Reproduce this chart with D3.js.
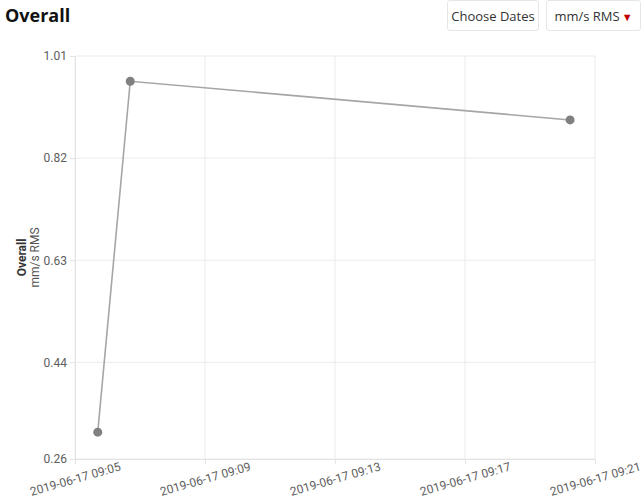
<!DOCTYPE html>
<html><head><meta charset="utf-8">
<script src="https://cdn.jsdelivr.net/npm/d3@7"></script>
<style>
body{margin:0;background:#fff;font-family:Roboto,"Open Sans",sans-serif;}
.btn{position:absolute;top:0;height:31px;border:1px solid #e6e6e6;border-radius:3px;box-sizing:border-box;font-family:"Open Sans",sans-serif;font-size:13px;color:#333;line-height:30px;text-align:center;background:#fff;}
</style></head>
<body>
<div style="position:absolute;left:5px;top:3px;font-family:'Open Sans',sans-serif;font-weight:700;font-size:18px;color:#111;">Overall</div>
<div class="btn" style="left:447px;width:92px;">Choose Dates</div>
<div class="btn" style="left:546px;width:95px;">mm/s RMS<span style="color:#c00000;font-size:11px;margin-left:2px;">&#9660;</span></div>
<svg id="chart" width="641" height="501" style="position:absolute;left:0;top:0;"></svg>
<script>
const times = ["2019-06-17T09:05:42","2019-06-17T09:06:42","2019-06-17T09:20:14"];
const values = [0.31, 0.963, 0.891];
const yTicks = [0.26, 0.44, 0.63, 0.82, 1.01];
const xTickLabels = ["2019-06-17 09:05","2019-06-17 09:09","2019-06-17 09:13","2019-06-17 09:17","2019-06-17 09:21"];
const yTitle = "Overall";
const yUnit = "mm/s RMS";

const parse = d3.timeParse("%Y-%m-%dT%H:%M:%S");
const parseTick = d3.timeParse("%Y-%m-%d %H:%M");
const xTicks = xTickLabels.map(parseTick);
const data = times.map((t,i)=>({t:parse(t), v:values[i]}));

const svg = d3.select("#chart");
const m = {l:75, r:595, t:56, b:459};
const x = d3.scaleTime().domain([xTicks[0], xTicks[xTicks.length-1]]).range([m.l, m.r]);
const y = d3.scaleLinear().domain([0.26, 1.01]).range([m.b, m.t]);

// grid
svg.append("g").selectAll("line").data(yTicks).join("line")
  .attr("x1", m.l).attr("x2", m.r).attr("y1", d=>y(d)).attr("y2", d=>y(d))
  .attr("stroke", "#ebebeb").attr("stroke-width", 1);
svg.append("g").selectAll("line").data(xTicks).join("line")
  .attr("y1", m.t).attr("y2", m.b).attr("x1", d=>x(d)).attr("x2", d=>x(d))
  .attr("stroke", "#ebebeb").attr("stroke-width", 1);

// y axis
const ya = svg.append("g").attr("transform", `translate(${m.l},0)`)
  .call(d3.axisLeft(y).tickValues(yTicks).tickFormat(d3.format(".2f")).tickSize(5).tickPadding(3));
ya.select(".domain").attr("stroke", "#e3e3e3");
ya.selectAll(".tick line").attr("stroke", "#e3e3e3");
ya.selectAll("text").attr("fill", "#5e5e5e").style("font-family", "Roboto, sans-serif").style("font-size", "12px");

// x axis
const xa = svg.append("g").attr("transform", `translate(0,${m.b})`)
  .call(d3.axisBottom(x).tickValues(xTicks).tickFormat((d,i)=>xTickLabels[i]).tickSize(5));
xa.select(".domain").attr("stroke", "#e3e3e3");
xa.selectAll(".tick line").attr("stroke", "#e3e3e3");
xa.selectAll("text").attr("fill", "#5e5e5e").style("font-family", "Roboto, sans-serif").style("font-size", "12px")
  .attr("text-anchor", "middle").attr("y", 0).attr("dy", 0)
  .attr("transform", "translate(1,24) rotate(-16)");

// y title
const yt = svg.append("text").attr("transform", `translate(26,${(m.t+m.b)/2}) rotate(-90)`)
  .attr("text-anchor", "middle").style("font-family", "Roboto, sans-serif").style("font-size", "12px");
yt.append("tspan").attr("x", 0).attr("dy", 0).attr("font-weight", 700).attr("fill", "#333").text(yTitle);
yt.append("tspan").attr("x", 0).attr("dy", 13).attr("fill", "#555").text(yUnit);

// line
svg.append("path").datum(data)
  .attr("d", d3.line().x(d=>x(d.t)).y(d=>y(d.v)))
  .attr("fill", "none").attr("stroke", "#a6a6a6").attr("stroke-width", 1.6);
svg.append("g").selectAll("circle").data(data).join("circle")
  .attr("cx", d=>x(d.t)).attr("cy", d=>y(d.v)).attr("r", 4.5).attr("fill", "#808080");
</script>
</body></html>
